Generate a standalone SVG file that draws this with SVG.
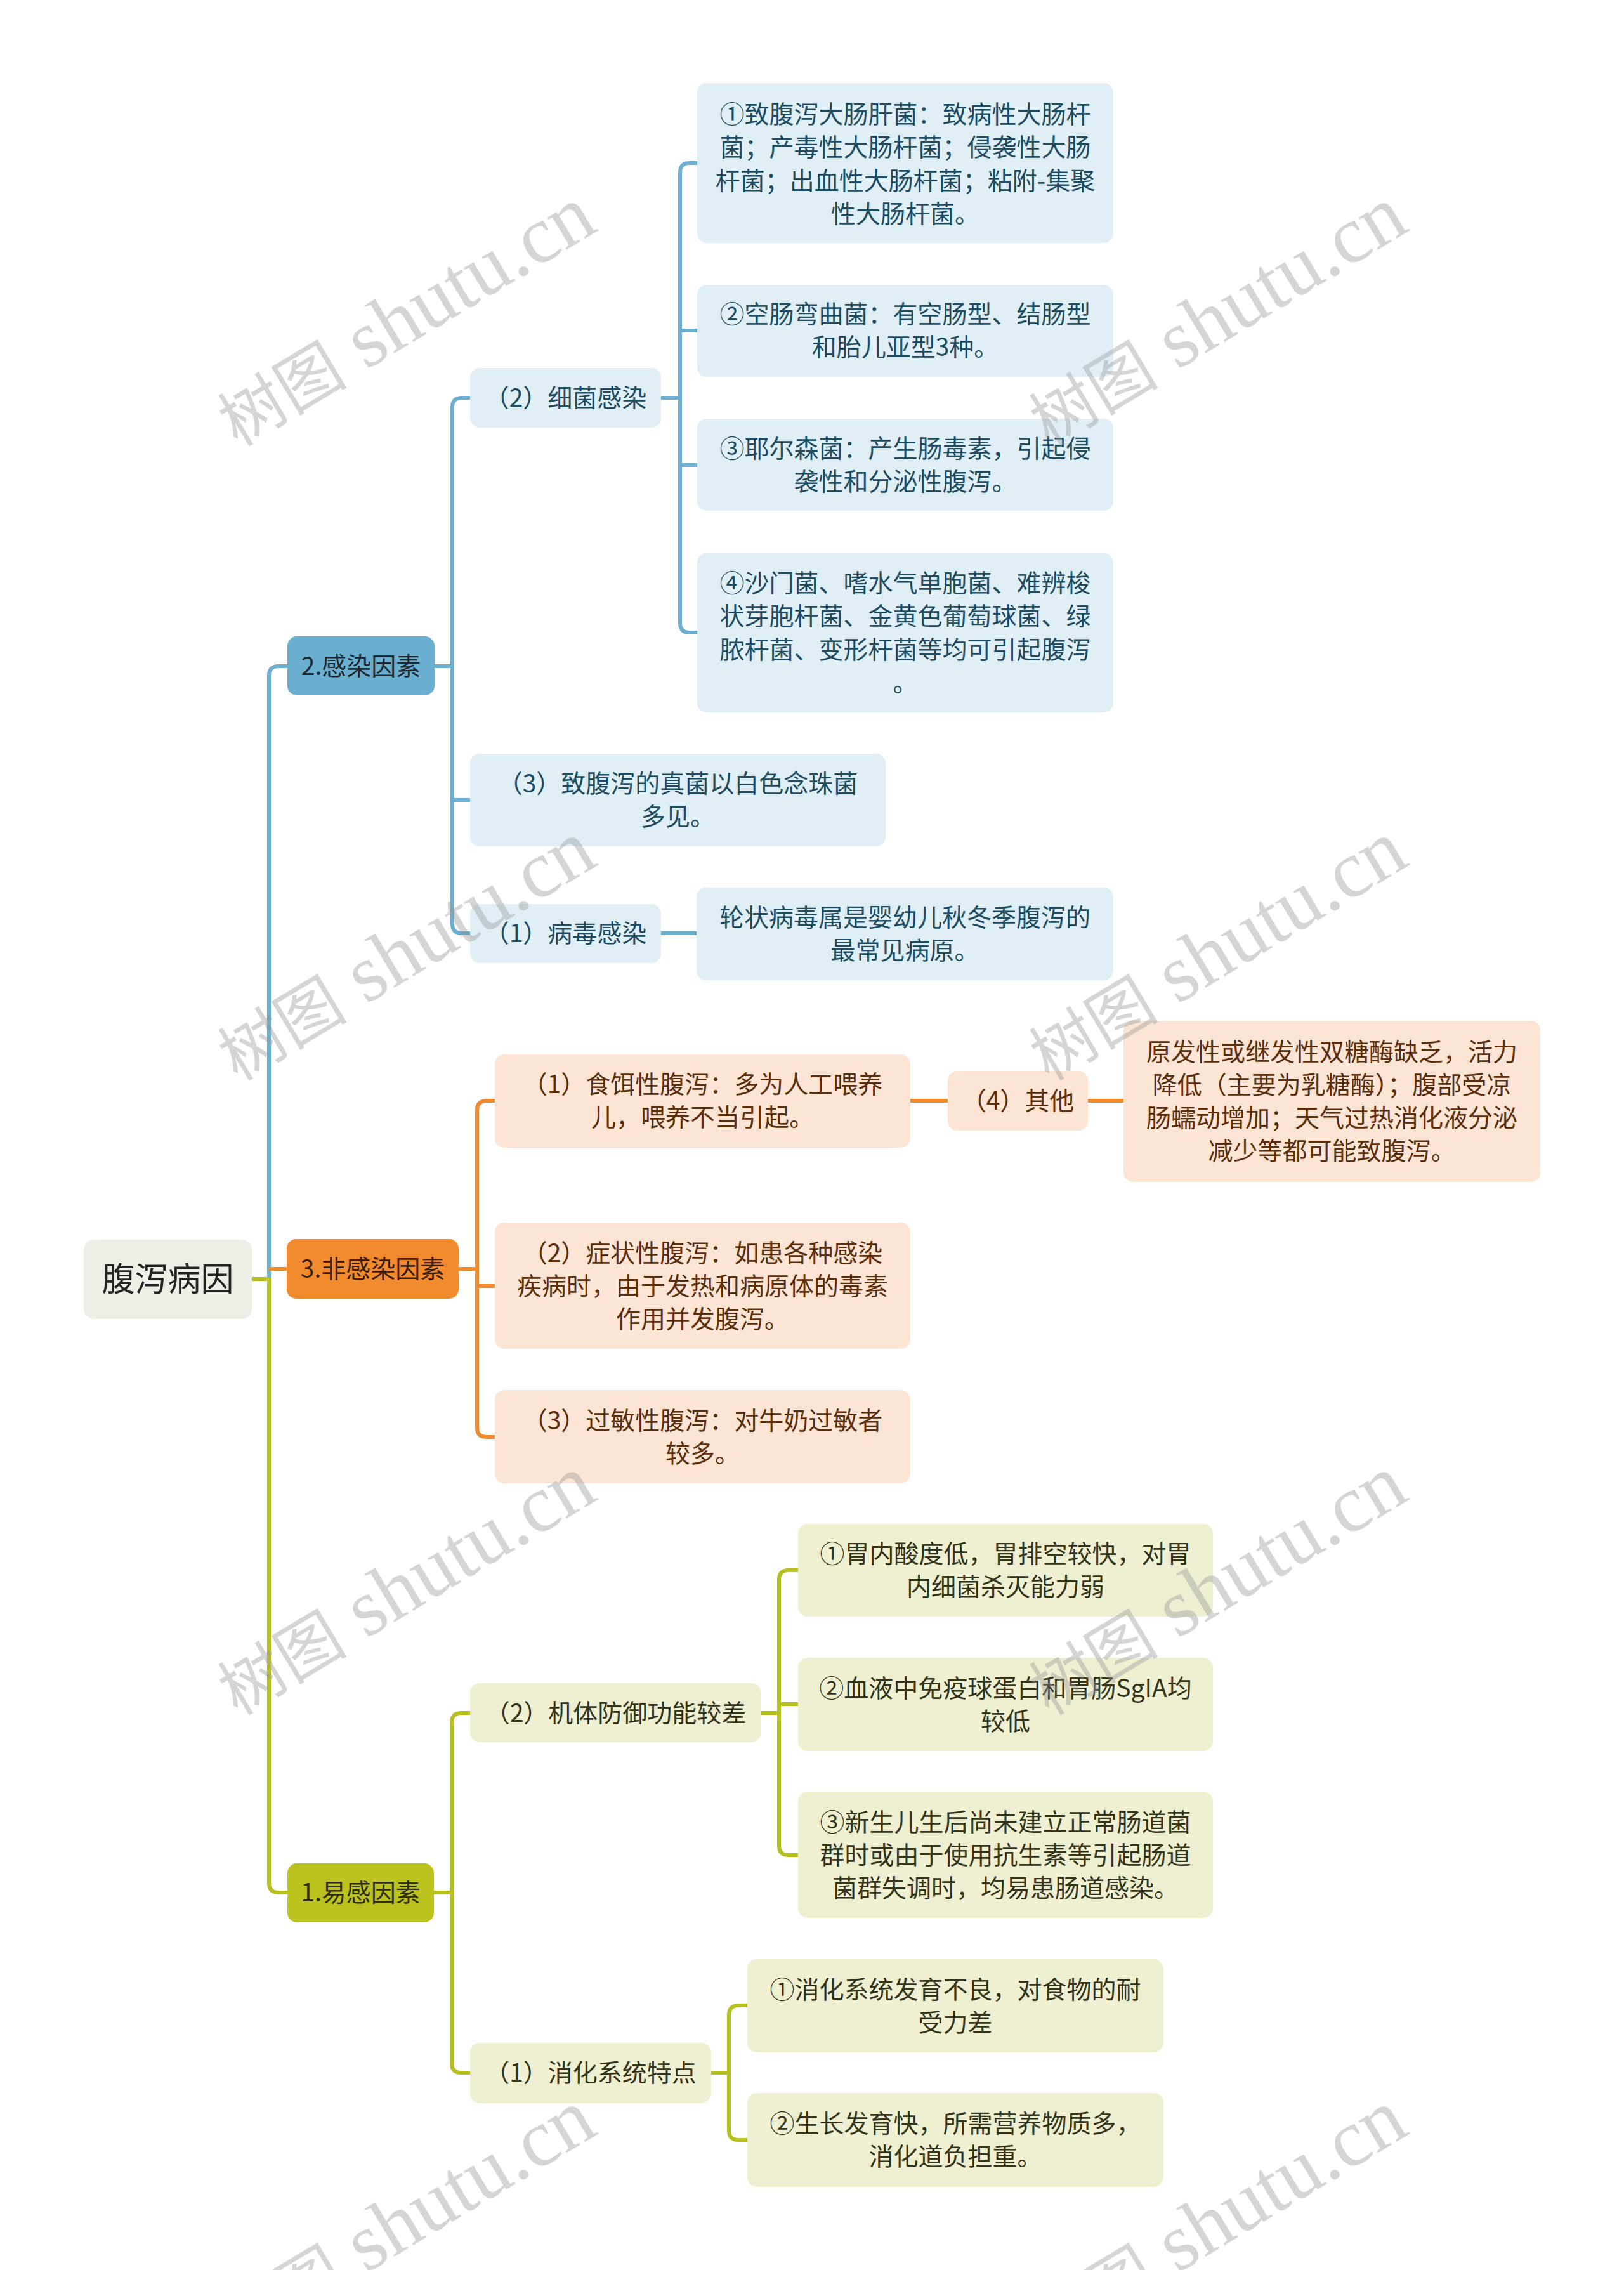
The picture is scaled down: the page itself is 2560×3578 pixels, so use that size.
<svg xmlns="http://www.w3.org/2000/svg" width="2560" height="3578" viewBox="0 0 2560 3578">
<style>
text{font-family:"Noto Sans CJK SC","Noto Sans",sans-serif;text-anchor:middle;font-size:39px}
.c{fill:none;stroke-width:6;stroke-linecap:butt;stroke-linejoin:round}
.cb{stroke:#6BAED0}.co{stroke:#F08B2D}.cg{stroke:#B8C020}
.rb1{fill:#6AAFD0}.rb{fill:#E0EFF6}.ro1{fill:#F28A2E}.ro{fill:#FCE5D5}.rg1{fill:#BCC31E}.rg{fill:#EFF0D2}
.tb1{fill:#1E2A30}.tb{fill:#1E4D63}.to1{fill:#3A1E08}.to{fill:#5B2E0C}.tg1{fill:#2F300A}.tg{fill:#33341A}
.wm{font-family:"Liberation Serif","Noto Sans CJK SC",serif;font-size:128px;fill:#999;opacity:0.4}
.wz{font-size:102px}
</style>
<rect width="2560" height="3578" fill="#FFFFFF"/>
<g id="connectors">
<path class="c cb" d="M424 2016 V1065 Q424 1050 439 1050 H453"/>
<path class="c co" d="M424 2000 H452"/>
<path class="c cg" d="M397 2016 H424 V2968 Q424 2983 439 2983 H453"/>
<path class="c cb" d="M685 1050 H713 M713 1050 V642 Q713 627 728 627 H741 M713 1050 V1456 Q713 1471 728 1471 H741 M713 1261 H741"/>
<path class="c cb" d="M1042 627 H1072 M1072 627 V272 Q1072 257 1087 257 H1099 M1072 627 V982 Q1072 997 1087 997 H1099 M1072 521 H1099 M1072 733 H1099"/>
<path class="c cb" d="M1042 1471 H1098"/>
<path class="c co" d="M723 2000 H752 M752 2000 V1750 Q752 1735 767 1735 H780 M752 2000 V2250 Q752 2265 767 2265 H780 M752 2027 H780"/>
<path class="c co" d="M1435 1735 H1494 M1715 1735 H1771"/>
<path class="c cg" d="M684 2983 H712 M712 2983 V2715 Q712 2700 727 2700 H741 M712 2983 V3252 Q712 3267 727 3267 H741"/>
<path class="c cg" d="M1200 2700 H1228 M1228 2700 V2490 Q1228 2475 1243 2475 H1258 M1228 2700 V2909 Q1228 2924 1243 2924 H1258 M1228 2686 H1258"/>
<path class="c cg" d="M1121 3267 H1149 M1149 3267 V3176 Q1149 3161 1164 3161 H1178 M1149 3267 V3358 Q1149 3373 1164 3373 H1178"/>
</g>
<g id="root">
<rect x="132" y="1954" width="265" height="125" rx="16" fill="#EEEEE6"/>
<text x="264.5" y="2035" style="font-size:52px" fill="#222222">腹泻病因</text>
</g>
<g id="n-infect">
<rect class="rb1" x="453" y="1003" width="232" height="93" rx="15"/>
<text class="tb1" x="569" y="1064">2.感染因素</text>
</g>
<g id="n-bacteria">
<rect class="rb" x="741" y="580" width="301" height="94" rx="15"/>
<text class="tb" x="891.5" y="641">（2）细菌感染</text>
</g>
<g id="n-b1">
<rect class="rb" x="1099" y="131" width="656" height="252" rx="15"/>
<text class="tb" x="1427" y="194">①致腹泻大肠肝菌：致病性大肠杆</text>
<text class="tb" x="1427" y="246">菌；产毒性大肠杆菌；侵袭性大肠</text>
<text class="tb" x="1427" y="299">杆菌；出血性大肠杆菌；粘附-集聚</text>
<text class="tb" x="1427" y="351">性大肠杆菌。</text>
</g>
<g id="n-b2">
<rect class="rb" x="1099" y="449" width="656" height="145" rx="15"/>
<text class="tb" x="1427" y="509">②空肠弯曲菌：有空肠型、结肠型</text>
<text class="tb" x="1427" y="561">和胎儿亚型3种。</text>
</g>
<g id="n-b3">
<rect class="rb" x="1099" y="660" width="656" height="145" rx="15"/>
<text class="tb" x="1427" y="721">③耶尔森菌：产生肠毒素，引起侵</text>
<text class="tb" x="1427" y="773">袭性和分泌性腹泻。</text>
</g>
<g id="n-b4">
<rect class="rb" x="1099" y="872" width="656" height="251" rx="15"/>
<text class="tb" x="1427" y="933">④沙门菌、嗜水气单胞菌、难辨梭</text>
<text class="tb" x="1427" y="985">状芽胞杆菌、金黄色葡萄球菌、绿</text>
<text class="tb" x="1427" y="1038">脓杆菌、变形杆菌等均可引起腹泻</text>
<text class="tb" x="1427" y="1090">。</text>
</g>
<g id="n-fungus">
<rect class="rb" x="741" y="1188" width="655" height="146" rx="15"/>
<text class="tb" x="1068.5" y="1249">（3）致腹泻的真菌以白色念珠菌</text>
<text class="tb" x="1068.5" y="1301">多见。</text>
</g>
<g id="n-virus">
<rect class="rb" x="741" y="1425" width="301" height="93" rx="15"/>
<text class="tb" x="891.5" y="1485">（1）病毒感染</text>
</g>
<g id="n-rota">
<rect class="rb" x="1098" y="1399" width="657" height="146" rx="15"/>
<text class="tb" x="1426.5" y="1460">轮状病毒属是婴幼儿秋冬季腹泻的</text>
<text class="tb" x="1426.5" y="1512">最常见病原。</text>
</g>
<g id="n-noninfect">
<rect class="ro1" x="452" y="1953" width="271" height="94" rx="15"/>
<text class="to1" x="587.5" y="2014">3.非感染因素</text>
</g>
<g id="n-diet">
<rect class="ro" x="780" y="1662" width="655" height="147" rx="15"/>
<text class="to" x="1107.5" y="1723">（1）食饵性腹泻：多为人工喂养</text>
<text class="to" x="1107.5" y="1775">儿，喂养不当引起。</text>
</g>
<g id="n-other">
<rect class="ro" x="1494" y="1688" width="221" height="94" rx="15"/>
<text class="to" x="1604.5" y="1749">（4）其他</text>
</g>
<g id="n-other-d">
<rect class="ro" x="1771" y="1609" width="657" height="254" rx="15"/>
<text class="to" x="2099.5" y="1672">原发性或继发性双糖酶缺乏，活力</text>
<text class="to" x="2099.5" y="1724">降低（主要为乳糖酶）；腹部受凉</text>
<text class="to" x="2099.5" y="1776">肠蠕动增加；天气过热消化液分泌</text>
<text class="to" x="2099.5" y="1828">减少等都可能致腹泻。</text>
</g>
<g id="n-symptom">
<rect class="ro" x="780" y="1927" width="655" height="199" rx="15"/>
<text class="to" x="1107.5" y="1989">（2）症状性腹泻：如患各种感染</text>
<text class="to" x="1107.5" y="2041">疾病时，由于发热和病原体的毒素</text>
<text class="to" x="1107.5" y="2093">作用并发腹泻。</text>
</g>
<g id="n-allergy">
<rect class="ro" x="780" y="2191" width="655" height="147" rx="15"/>
<text class="to" x="1107.5" y="2253">（3）过敏性腹泻：对牛奶过敏者</text>
<text class="to" x="1107.5" y="2305">较多。</text>
</g>
<g id="n-suscept">
<rect class="rg1" x="453" y="2937" width="231" height="93" rx="15"/>
<text class="tg1" x="568.5" y="2997">1.易感因素</text>
</g>
<g id="n-defense">
<rect class="rg" x="741" y="2653" width="459" height="93" rx="15"/>
<text class="tg" x="970.5" y="2714">（2）机体防御功能较差</text>
</g>
<g id="n-d1">
<rect class="rg" x="1258" y="2402" width="654" height="146" rx="15"/>
<text class="tg" x="1585" y="2463">①胃内酸度低，胃排空较快，对胃</text>
<text class="tg" x="1585" y="2515">内细菌杀灭能力弱</text>
</g>
<g id="n-d2">
<rect class="rg" x="1258" y="2613" width="654" height="147" rx="15"/>
<text class="tg" x="1585" y="2675">②血液中免疫球蛋白和胃肠SgIA均</text>
<text class="tg" x="1585" y="2727">较低</text>
</g>
<g id="n-d3">
<rect class="rg" x="1258" y="2824" width="654" height="199" rx="15"/>
<text class="tg" x="1585" y="2886">③新生儿生后尚未建立正常肠道菌</text>
<text class="tg" x="1585" y="2938">群时或由于使用抗生素等引起肠道</text>
<text class="tg" x="1585" y="2990">菌群失调时，均易患肠道感染。</text>
</g>
<g id="n-digest">
<rect class="rg" x="741" y="3220" width="380" height="95" rx="15"/>
<text class="tg" x="931" y="3281">（1）消化系统特点</text>
</g>
<g id="n-g1">
<rect class="rg" x="1178" y="3088" width="656" height="147" rx="15"/>
<text class="tg" x="1506" y="3150">①消化系统发育不良，对食物的耐</text>
<text class="tg" x="1506" y="3202">受力差</text>
</g>
<g id="n-g2">
<rect class="rg" x="1178" y="3299" width="656" height="148" rx="15"/>
<text class="tg" x="1506" y="3361">②生长发育快，所需营养物质多，</text>
<text class="tg" x="1506" y="3413">消化道负担重。</text>
</g>
<g id="watermark">
<text class="wm" x="644" y="538" transform="rotate(-31 644 507)"><tspan class="wz">树图</tspan> shutu.cn</text>
<text class="wm" x="1923" y="538" transform="rotate(-31 1923 507)"><tspan class="wz">树图</tspan> shutu.cn</text>
<text class="wm" x="644" y="1538" transform="rotate(-31 644 1507)"><tspan class="wz">树图</tspan> shutu.cn</text>
<text class="wm" x="1923" y="1538" transform="rotate(-31 1923 1507)"><tspan class="wz">树图</tspan> shutu.cn</text>
<text class="wm" x="644" y="2538" transform="rotate(-31 644 2507)"><tspan class="wz">树图</tspan> shutu.cn</text>
<text class="wm" x="1923" y="2538" transform="rotate(-31 1923 2507)"><tspan class="wz">树图</tspan> shutu.cn</text>
<text class="wm" x="644" y="3538" transform="rotate(-31 644 3507)"><tspan class="wz">树图</tspan> shutu.cn</text>
<text class="wm" x="1923" y="3538" transform="rotate(-31 1923 3507)"><tspan class="wz">树图</tspan> shutu.cn</text>
</g>
</svg>
